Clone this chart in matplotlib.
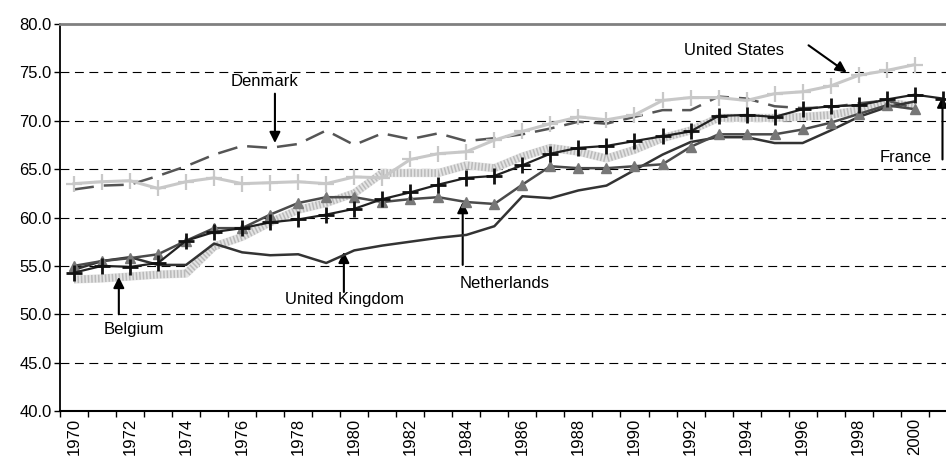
import numpy as np
import matplotlib
matplotlib.use('Agg')
import matplotlib.pyplot as plt

plt.rcParams['font.family'] = ['Liberation Sans', 'DejaVu Sans']

# datos
years = list(range(1970, 2002))
denmark = [62.9, 63.3, 63.4, 64.3, 65.3, 66.5, 67.4, 67.2, 67.6, 69.0, 67.5, 68.7, 68.1, 68.7,
           67.9, 68.2, 68.6, 69.2, 69.9, 69.7, 70.4, 71.1, 71.1, 72.5, 72.3, 71.5, 71.3, 71.4,
           71.8, 72.1, 71.3]
usa = [63.5, 63.7, 63.8, 63.0, 63.7, 64.1, 63.5, 63.6, 63.7, 63.5, 64.2, 64.1, 66.0, 66.6,
       66.8, 68.0, 68.9, 69.7, 70.4, 70.1, 70.6, 72.1, 72.4, 72.4, 72.1, 72.8, 73.0, 73.6,
       74.7, 75.2, 75.8]
netherlands = [54.3, 55.0, 54.9, 55.3, 57.6, 58.5, 58.9, 59.5, 59.8, 60.3, 60.9, 61.9, 62.6,
               63.4, 64.1, 64.3, 65.4, 66.6, 67.2, 67.4, 67.9, 68.4, 68.9, 70.5, 70.6, 70.4,
               71.2, 71.5, 71.6, 72.2, 72.7, 72.3]
france = [55.0, 55.5, 55.8, 56.2, 57.6, 58.9, 58.9, 60.3, 61.5, 62.1, 62.1, 61.6, 61.9, 62.1,
          61.6, 61.4, 63.4, 65.3, 65.1, 65.1, 65.3, 65.5, 67.3, 68.6, 68.6, 68.6, 69.1, 69.8,
          70.7, 71.6, 71.2]
uk = [54.6, 55.5, 55.9, 55.1, 55.1, 57.3, 56.4, 56.1, 56.2, 55.3, 56.6, 57.1, 57.5, 57.9,
      58.2, 59.1, 62.2, 62.0, 62.8, 63.3, 64.9, 66.5, 67.8, 68.3, 68.3, 67.7, 67.7, 69.0,
      70.4, 71.4, 72.0]
belgium = [53.6, 53.7, 53.9, 54.1, 54.2, 57.0, 58.0, 59.5, 60.8, 61.5, 62.5, 64.6, 64.6, 64.6,
           65.4, 65.1, 66.3, 67.2, 66.8, 66.1, 67.0, 68.2, 69.0, 70.3, 70.3, 70.3, 70.4, 70.6,
           71.1, 71.9, 71.5]

fig = plt.figure(figsize=(9.46, 4.62), dpi=100)
ax = fig.add_axes([0.0634, 0.1104, 0.948, 0.8376])

# lineas de cuadricula
for v in range(45, 80, 5):
    ax.axhline(v, color='black', lw=0.8, ls=(0, (8, 5)), zorder=0)

# Belgica: banda gruesa con textura clara
yb = years[:len(belgium)]
ax.plot(yb, belgium, color='#e4e4e4', lw=6, solid_capstyle='butt', zorder=1)
ax.plot(yb, belgium, color='#bababa', lw=5.5, ls=(0, (0.2, 0.25)), zorder=1)

ax.plot(years[:len(denmark)], denmark, color='#555555', lw=1.8, ls=(0, (8, 4)), zorder=2)
ax.plot(years[:len(usa)], usa, color='#c8c8c8', lw=2.2, marker='+', ms=11, mew=1.6, zorder=3)
ax.plot(years[:len(uk)], uk, color='#333333', lw=1.8, zorder=4)
ax.plot(years[:len(france)], france, color='#4a4a4a', lw=1.8, marker='^', ms=7,
        mfc='#777777', mec='#777777', zorder=5)
ax.plot(years[:len(netherlands)], netherlands, color='#222222', lw=1.6, marker='+', ms=12,
        mew=2, mec='#111111', zorder=6)

ax.set_xlim(1969.5, 2001.5)
ax.set_ylim(40, 80)
ax.set_yticks(range(40, 81, 5))
ax.set_yticklabels(['%.1f' % v for v in range(40, 81, 5)], fontsize=12)

# marcas en los limites de las categorias, etiquetas en los años pares
ax.set_xticks(np.arange(1969.5, 2002, 1.0))
ax.set_xticklabels([])
ax.set_xticks(range(1970, 2002, 2), minor=True)
ax.set_xticklabels([str(y) for y in range(1970, 2002, 2)], minor=True, rotation=90, fontsize=12)
ax.tick_params(axis='x', which='major', length=4, width=1, direction='out')
ax.tick_params(axis='x', which='minor', length=0, pad=5)
ax.tick_params(axis='y', length=4, width=1, pad=2)

ax.spines['top'].set_color('#808080')
ax.spines['top'].set_linewidth(2)
ax.spines['right'].set_visible(False)
ax.spines['left'].set_linewidth(1.3)
ax.spines['bottom'].set_linewidth(1.5)

# etiquetas con flechas
flecha = dict(arrowstyle='-|>', color='black', lw=1.5, mutation_scale=16, shrinkA=0, shrinkB=0)
ax.text(1976.78, 74.1, 'Denmark', fontsize=12, ha='center', va='center')
ax.annotate('', xy=(1977.17, 67.7), xytext=(1977.17, 72.8), arrowprops=flecha)
ax.text(1993.54, 77.3, 'United States', fontsize=12, ha='center', va='center')
ax.annotate('', xy=(1997.57, 75.0), xytext=(1996.21, 77.8), arrowprops=flecha)
ax.text(1999.67, 66.2, 'France', fontsize=12, ha='center', va='center')
ax.annotate('', xy=(2000.99, 72.5), xytext=(2000.99, 66.0), arrowprops=flecha)
ax.text(1985.37, 53.2, 'Netherlands', fontsize=12, ha='center', va='center')
ax.annotate('', xy=(1983.87, 61.6), xytext=(1983.87, 55.1), arrowprops=flecha)
ax.text(1979.66, 51.5, 'United Kingdom', fontsize=12, ha='center', va='center')
ax.annotate('', xy=(1979.63, 56.45), xytext=(1979.63, 52.3), arrowprops=flecha)
ax.text(1972.14, 48.4, 'Belgium', fontsize=12, ha='center', va='center')
ax.annotate('', xy=(1971.6, 53.86), xytext=(1971.6, 50.0), arrowprops=flecha)

fig.savefig('out.png', dpi=100)
